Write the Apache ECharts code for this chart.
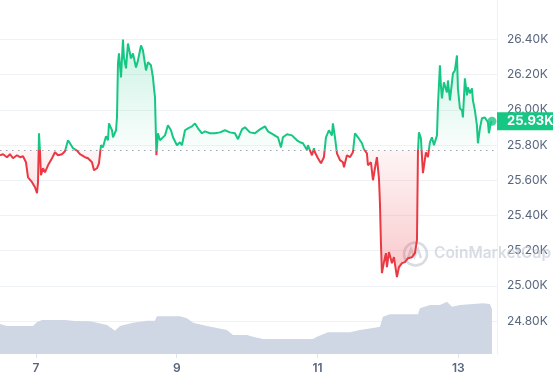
<!DOCTYPE html>
<html><head><meta charset="utf-8">
<script src="https://cdn.jsdelivr.net/npm/echarts@6/dist/echarts.min.js"></script>
<style>html,body{margin:0;padding:0;background:#fff}#c{width:553px;height:380px}</style>
</head><body><div id="c"></div>
<script>
// Day of month (fractional) for each price sample
const priceDays = [6.489,6.532,6.588,6.631,6.674,6.730,6.773,6.816,6.858,6.887,6.944,6.958,6.986,7.015,7.029,7.043,7.057,7.071,7.100,7.128,7.171,7.228,7.270,7.313,7.370,7.412,7.455,7.483,7.526,7.583,7.625,7.696,7.739,7.796,7.824,7.867,7.895,7.924,7.952,7.995,8.023,8.037,8.080,8.094,8.137,8.151,8.165,8.179,8.208,8.236,8.250,8.279,8.307,8.350,8.378,8.421,8.449,8.492,8.520,8.563,8.591,8.634,8.662,8.677,8.691,8.711,8.733,8.762,8.790,8.833,8.875,8.918,8.947,9.003,9.046,9.074,9.117,9.160,9.216,9.259,9.302,9.358,9.401,9.472,9.543,9.614,9.685,9.756,9.827,9.870,9.927,9.969,10.040,10.111,10.182,10.253,10.296,10.367,10.438,10.481,10.509,10.566,10.637,10.708,10.751,10.793,10.850,10.864,10.921,10.949,10.963,11.006,11.049,11.091,11.120,11.162,11.205,11.219,11.248,11.276,11.319,11.361,11.376,11.418,11.461,11.503,11.532,11.575,11.631,11.660,11.702,11.716,11.759,11.788,11.816,11.844,11.873,11.887,11.901,11.915,11.944,11.972,11.986,12.015,12.057,12.086,12.128,12.157,12.200,12.242,12.285,12.342,12.384,12.413,12.427,12.441,12.469,12.498,12.540,12.569,12.597,12.626,12.654,12.697,12.711,12.739,12.753,12.767,12.796,12.839,12.853,12.881,12.910,12.924,12.952,12.981,12.995,13.023,13.052,13.066,13.094,13.123,13.137,13.165,13.194,13.208,13.236,13.265,13.279,13.307,13.336,13.378,13.421,13.435,13.463,13.478];
// Price in USD
const priceVals = [25742,25748,25731,25748,25725,25742,25731,25736,25702,25617,25589,25600,25560,25526,25589,25867,25765,25628,25668,25645,25685,25725,25759,25742,25748,25765,25827,25810,25782,25768,25748,25731,25725,25702,25657,25668,25696,25799,25787,25850,25827,25923,25884,25844,25884,25957,26264,26321,26184,26400,26298,26236,26377,26292,26321,26241,26281,26366,26338,26224,26270,26253,26184,26122,26071,25742,25867,25827,25838,25855,25912,25884,25844,25799,25816,25799,25884,25895,25906,25923,25895,25867,25878,25867,25867,25872,25884,25872,25867,25833,25889,25901,25872,25867,25889,25906,25878,25861,25844,25787,25844,25861,25855,25827,25816,25810,25772,25799,25742,25782,25759,25725,25696,25731,25844,25884,25855,25923,25844,25753,25714,25702,25674,25742,25731,25759,25867,25844,25810,25776,25753,25685,25702,25600,25668,25731,25611,25470,25243,25072,25135,25186,25106,25192,25129,25163,25050,25106,25129,25135,25157,25163,25186,25260,25765,25872,25838,25640,25759,25731,25816,25844,25799,25855,26026,26253,26139,26065,26156,26099,26167,26054,26156,26207,26224,26309,26122,26009,25997,25957,26179,26082,26128,26094,26122,26054,25997,25912,25810,25895,25952,25957,25929,25867,25929,25935];
// 24h volume (billion USD)
const volDays = [6.489,6.588,6.958,7.015,7.086,7.412,7.554,7.767,7.867,8.009,8.123,8.194,8.378,8.577,8.691,8.719,9.046,9.145,9.231,9.429,9.713,9.799,9.998,10.083,10.225,10.935,10.992,11.148,11.461,11.603,11.788,11.887,11.929,12.029,12.427,12.455,12.597,12.739,12.839,12.910,13.023,13.350,13.449,13.478];
const volVals = [9.0,8.4,8.4,9.6,10.2,10.2,9.9,9.8,9.4,8.7,7.0,8.4,9.4,10.0,10.0,11.3,11.3,10.7,9.4,8.4,7.2,5.7,5.7,5.2,4.5,4.5,5.2,6.5,6.5,7.2,7.8,8.2,11.2,11.9,11.9,13.7,14.7,14.7,15.7,14.2,14.7,15.2,15.0,13.5];
const baseline = 25770;
const xLabels = [7, 9, 11, 13];
const yMin = 24600, yMax = 26600, yStep = 200;
const xMin = 6.489, xMax = 13.55;
const volMax = 106.2;

const UP = '#16c784', DOWN = '#ea3943';
const priceData = priceDays.map((d, i) => [d, priceVals[i]]);
const volData = volDays.map((d, i) => [d, volVals[i]]);
const last = priceData[priceData.length - 1];
const pMax = Math.max(...priceVals), pMin = Math.min(...priceVals);
const fmtK = v => (v / 1000).toFixed(2) + 'K';

const chart = echarts.init(document.getElementById('c'));
chart.setOption({
  animation: false,
  backgroundColor: '#fff',
  textStyle: {fontFamily: 'Inter, "Noto Sans", sans-serif'},
  grid: [
    {left: 0, right: 56, top: 4.25, bottom: 23.75, outerBoundsMode: 'none'},
    {left: 0, right: 56, top: 0, bottom: 26, outerBoundsMode: 'none'}
  ],
  xAxis: [
    {type: 'value', gridIndex: 0, min: xMin, max: xMax, show: false},
    {type: 'value', gridIndex: 1, min: xMin, max: xMax,
     axisLine: {show: false},
     splitLine: {show: false},
     axisTick: {show: true, customValues: xLabels, length: 4, lineStyle: {color: '#dfe4ec'}},
     axisLabel: {customValues: xLabels, formatter: v => String(Math.round(v)), color: '#58667e',
       fontSize: 12, fontWeight: 600, margin: 8}}
  ],
  yAxis: [
    {type: 'value', gridIndex: 0, position: 'right', min: yMin, max: yMax, interval: yStep,
     axisLine: {show: false}, axisTick: {show: false},
     splitLine: {show: true, showMinLine: false, showMaxLine: false, lineStyle: {color: '#eff2f5'}},
     axisLabel: {showMinLabel: false, showMaxLabel: false, formatter: fmtK, color: '#58667e', fontSize: 12, margin: 10}},
    {type: 'value', gridIndex: 1, position: 'right', min: 0, max: volMax,
     axisLine: {show: true, lineStyle: {color: '#eff2f5'}}, axisTick: {show: false},
     splitLine: {show: false}, axisLabel: {show: false}},
    {type: 'value', gridIndex: 0, position: 'right', min: yMin, max: yMax,
     axisLine: {show: false}, axisTick: {show: false}, splitLine: {show: false},
     axisLabel: {customValues: [last[1]], formatter: fmtK, margin: 0, color: '#fff',
       backgroundColor: UP, fontSize: 13, fontWeight: 'bold', lineHeight: 14, padding: [2, 10, 2, 10]}}
  ],
  graphic: [
    {type: 'circle', z: 1, shape: {cx: 415.5, cy: 254, r: 11.5},
     style: {fill: 'none', stroke: 'rgba(190,198,210,0.6)', lineWidth: 2.6}},
    {type: 'polyline', z: 1, shape: {points: [[408,258],[411,249],[414.5,257],[418,249],[421,258]]},
     style: {fill: 'none', stroke: 'rgba(190,198,210,0.6)', lineWidth: 2.4}},
    {type: 'text', z: 1, left: 434, top: 245,
     style: {text: 'CoinMarketCap', fill: 'rgba(190,198,210,0.6)', font: '600 15.5px Inter, sans-serif'}}
  ],
  series: [
    {id: 'price', type: 'line', xAxisIndex: 0, yAxisIndex: 0, data: priceData, z: 4,
     showSymbol: false, symbol: 'none', lineStyle: {width: 2, color: UP},
     areaStyle: {origin: baseline, opacity: 1, color: 'rgba(22,199,132,0.1)'},
     markLine: {silent: true, symbol: 'none', label: {show: false},
       lineStyle: {color: '#9aa3b2', type: [1.5, 4.5], width: 1}, data: [{yAxis: baseline}]}
    },
    {type: 'scatter', xAxisIndex: 0, yAxisIndex: 0, data: [last], z: 5,
     symbolSize: 9, itemStyle: {color: UP}},
    {type: 'line', xAxisIndex: 1, yAxisIndex: 1, data: volData, z: 1,
     showSymbol: false, symbol: 'none', lineStyle: {width: 0},
     areaStyle: {color: '#cfd6e4', opacity: 1}}
  ]
});

// Colour split at the baseline, computed from the axis scale
const yBase = chart.convertToPixel({yAxisIndex: 0}, baseline);
const yTop = chart.convertToPixel({yAxisIndex: 0}, pMax);
const yBot = chart.convertToPixel({yAxisIndex: 0}, pMin);
const H = chart.getHeight();
const b = yBase / H;
const lineGrad = new echarts.graphic.LinearGradient(0, 0, 0, H, [
  {offset: 0, color: UP}, {offset: b, color: UP},
  {offset: b, color: DOWN}, {offset: 1, color: DOWN}
], true);
const areaGrad = new echarts.graphic.LinearGradient(0, yTop, 0, yBot, [
  {offset: 0, color: 'rgba(22,199,132,0.22)'},
  {offset: (yBase - yTop) / (yBot - yTop), color: 'rgba(22,199,132,0.02)'},
  {offset: (yBase - yTop) / (yBot - yTop), color: 'rgba(234,57,67,0.05)'},
  {offset: 1, color: 'rgba(234,57,67,0.28)'}
], true);
chart.setOption({series: [{id: 'price', lineStyle: {color: lineGrad}, areaStyle: {color: areaGrad}}]});
</script></body></html>
